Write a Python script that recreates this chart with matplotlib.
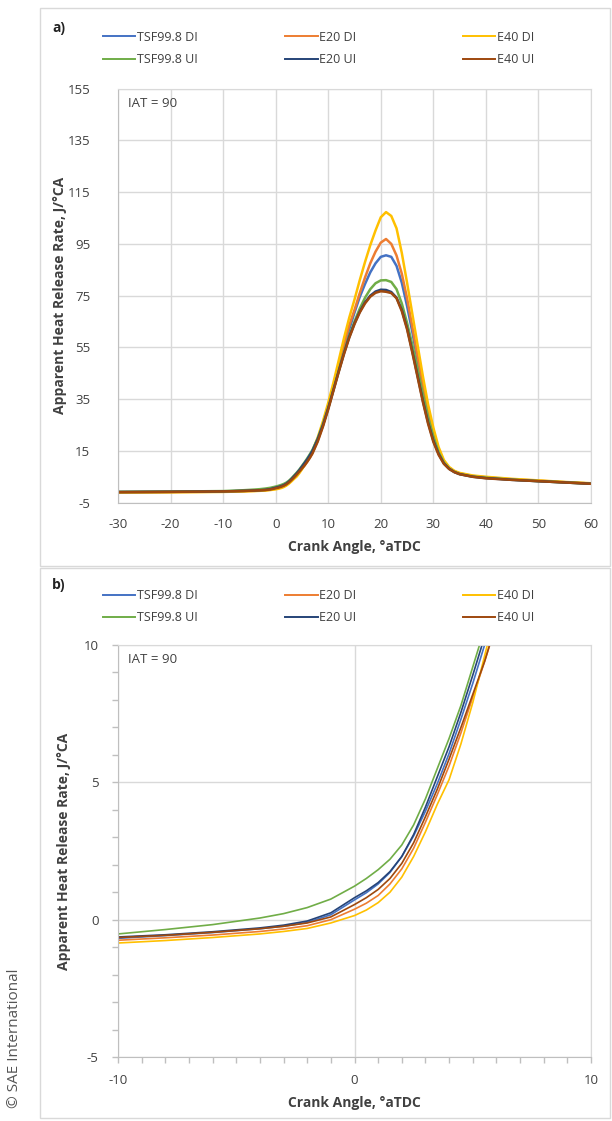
import matplotlib
matplotlib.use("Agg")
import matplotlib.pyplot as plt
import matplotlib.ticker as ticker
from matplotlib.patches import Rectangle
from matplotlib.lines import Line2D

plt.rcParams['font.family'] = ['Open Sans', 'DejaVu Sans']
plt.rcParams['axes.unicode_minus'] = False

# crank angle grid, degrees aTDC
ca = [-30, -25, -20, -15, -10, -8, -6, -4, -3, -2, -1,
      0, 0.5, 1, 1.5, 2, 2.5, 3, 3.5, 4, 4.5, 5, 5.5, 6, 6.5, 7,
      8, 9, 10, 11, 12, 13, 14, 15, 16, 17, 18, 19, 20, 21,
      22, 23, 24, 25, 26, 27, 28, 29, 30, 31, 32, 33, 34, 35,
      37.5, 40, 45, 50, 55, 60]

# apparent heat release rate, J/deg CA
tsf_di = [-0.95, -0.90, -0.85, -0.77, -0.68, -0.58, -0.47, -0.33, -0.24, -0.10, 0.18,
          0.72, 0.98, 1.30, 1.72, 2.30, 3.05, 3.95, 4.95, 6.05, 7.30, 8.60, 10.0, 11.5, 13.1, 14.9,
          19.6, 25.3, 32.0, 39.3, 47.0, 54.8, 62.0, 68.5, 74.5, 79.5, 84.0, 87.5, 90.0, 90.6,
          90.0, 86.5, 80.0, 71.0, 61.0, 50.0, 39.5, 29.5, 21.5, 15.0, 10.8, 8.4, 7.0, 6.2,
          5.2, 4.7, 3.9, 3.4, 2.9, 2.4]
e20_di = [-1.00, -0.95, -0.90, -0.83, -0.75, -0.66, -0.56, -0.43, -0.34, -0.22, 0.00,
          0.38, 0.60, 0.88, 1.30, 1.85, 2.60, 3.55, 4.55, 5.60, 6.80, 8.10, 9.40, 10.8, 12.4, 14.2,
          18.9, 24.8, 31.9, 39.6, 48.0, 56.2, 63.5, 69.5, 76.0, 82.0, 87.5, 92.0, 95.5, 96.9,
          95.0, 90.5, 83.5, 74.0, 63.0, 51.5, 40.5, 30.5, 22.0, 15.5, 11.0, 8.5, 7.1, 6.3,
          5.3, 4.8, 4.0, 3.5, 2.9, 2.4]
e40_di = [-1.10, -1.05, -1.00, -0.93, -0.85, -0.76, -0.65, -0.52, -0.43, -0.32, -0.12,
          0.15, 0.35, 0.62, 1.00, 1.55, 2.30, 3.20, 4.20, 5.10, 6.40, 7.90, 9.60, 11.3, 13.1, 15.1,
          20.2, 26.5, 33.6, 41.5, 50.0, 58.6, 66.5, 73.5, 81.0, 88.0, 94.5, 100.2, 105.3, 107.3,
          105.8, 101.0, 91.5, 80.0, 68.0, 56.0, 44.0, 33.0, 24.0, 16.5, 11.5, 8.8, 7.3, 6.5,
          5.5, 5.0, 4.2, 3.6, 3.0, 2.5]
tsf_ui = [-0.80, -0.75, -0.70, -0.62, -0.52, -0.36, -0.18, 0.06, 0.22, 0.44, 0.75,
          1.22, 1.50, 1.82, 2.20, 2.72, 3.45, 4.40, 5.50, 6.60, 7.80, 9.20, 10.6, 12.1, 13.7, 15.4,
          19.8, 25.3, 31.6, 38.7, 46.0, 53.2, 59.5, 65.0, 70.0, 74.2, 77.5, 79.8, 80.9, 81.0,
          80.3, 77.5, 72.0, 64.5, 56.0, 46.5, 37.0, 28.0, 20.5, 14.5, 10.5, 8.2, 6.9, 6.1,
          5.1, 4.6, 3.9, 3.3, 2.8, 2.3]
e20_ui = [-0.90, -0.85, -0.80, -0.72, -0.63, -0.55, -0.44, -0.30, -0.20, -0.05, 0.25,
          0.80, 1.05, 1.35, 1.75, 2.30, 3.10, 4.10, 5.20, 6.30, 7.55, 8.90, 10.3, 11.7, 13.3, 15.0,
          19.5, 25.0, 31.5, 38.6, 45.8, 52.7, 59.0, 64.3, 68.8, 72.4, 75.0, 76.6, 77.3, 77.2,
          76.4, 74.2, 69.5, 62.5, 53.5, 44.0, 34.5, 26.0, 19.0, 13.8, 10.2, 8.1, 6.8, 6.0,
          5.0, 4.5, 3.8, 3.3, 2.8, 2.3]
e40_ui = [-0.92, -0.87, -0.82, -0.74, -0.65, -0.57, -0.46, -0.33, -0.24, -0.12, 0.10,
          0.55, 0.80, 1.10, 1.50, 2.05, 2.80, 3.75, 4.75, 5.85, 7.00, 8.20, 9.40, 10.8, 12.3, 14.0,
          18.6, 24.4, 31.0, 38.3, 45.5, 52.4, 58.7, 64.0, 68.5, 72.0, 74.6, 76.1, 76.7, 76.5,
          76.0, 74.0, 69.0, 62.0, 53.0, 43.5, 34.0, 25.5, 18.5, 13.5, 10.0, 8.0, 6.8, 6.0,
          5.0, 4.4, 3.8, 3.3, 2.8, 2.3]

labels = ['TSF99.8 DI', 'E20 DI', 'E40 DI', 'TSF99.8 UI', 'E20 UI', 'E40 UI']
series = [tsf_di, e20_di, e40_di, tsf_ui, e20_ui, e40_ui]
colors = ['#4472C4', '#ED7D31', '#FFC000', '#70AD47', '#264478', '#9E480E']

grid_c = '#D9D9D9'
axis_c = '#BFBFBF'
text_c = '#404040'

fig = plt.figure(figsize=(6.12, 11.21), dpi=100)

# panel frames
for y0, h in [(0.4951, 0.4978), (0.0027, 0.4906)]:
    fig.add_artist(Rectangle((0.0654, y0), 0.9313, h, transform=fig.transFigure,
                             fill=False, ec=grid_c, lw=1))

ax1 = fig.add_axes([0.1928, 0.5516, 0.7729, 0.3693])
ax2 = fig.add_axes([0.1928, 0.0571, 0.7729, 0.3675])

for lab, y, col in zip(labels, series, colors):
    ax1.plot(ca, y, color=col, lw=1.8, label=lab)
    ax2.plot(ca, y, color=col, lw=1.2, label=lab)

# a) full cycle
ax1.set_xlim(-30, 60)
ax1.set_ylim(-5, 155)
ax1.xaxis.set_major_locator(ticker.MultipleLocator(10))
ax1.yaxis.set_major_locator(ticker.FixedLocator(range(-5, 156, 20)))
ax1.grid(True, color=grid_c, lw=1)
ax1.tick_params(length=0, labelsize=9.5, labelcolor=text_c)
ax1.tick_params(axis='y', pad=20)
ax1.tick_params(axis='x', pad=11)

# b) zoom around TDC
ax2.set_xlim(-10, 10)
ax2.set_ylim(-5, 10)
ax2.xaxis.set_major_locator(ticker.MultipleLocator(10))
ax2.xaxis.set_minor_locator(ticker.MultipleLocator(1))
ax2.yaxis.set_major_locator(ticker.MultipleLocator(5))
ax2.yaxis.set_minor_locator(ticker.MultipleLocator(1))
ax2.grid(True, which='major', color=grid_c, lw=1)
ax2.tick_params(which='both', direction='out', length=4, width=1, color=axis_c,
                labelsize=9.5, labelcolor=text_c)
ax2.tick_params(axis='y', pad=10)
ax2.tick_params(axis='x', pad=8)

for ax in (ax1, ax2):
    ax.set_axisbelow(True)
    for side in ('top', 'right'):
        ax.spines[side].set_color(grid_c)
    for side in ('left', 'bottom'):
        ax.spines[side].set_color(axis_c)
    ax.set_xlabel('Crank Angle, °aTDC', fontsize=10, fontweight='bold', color=text_c)
    ax.set_ylabel('Apparent Heat Release Rate, J/°CA', fontsize=10,
                  fontweight='bold', color=text_c)
    ax.text(0.021, 0.965, 'IAT = 90', transform=ax.transAxes, fontsize=9.5,
            color=text_c, va='center')

ax1.xaxis.set_label_coords(0.5, -0.09)
ax1.yaxis.set_label_coords(-0.108, 0.5)
ax2.xaxis.set_label_coords(0.5, -0.095)
ax2.yaxis.set_label_coords(-0.099, 0.5)

# legends: three columns of two entries each
handles = [Line2D([], [], color=c, lw=1.4) for c in colors]
col_x = [0.1683, 0.4657, 0.7565]
for top_y, tag_y, tag in [(0.9725, 0.981, 'a)'), (0.4745, 0.4844, 'b)')]:
    for i, x in enumerate(col_x):
        fig.legend([handles[i], handles[i + 3]], [labels[i], labels[i + 3]],
                   loc='upper left', bbox_to_anchor=(x, top_y), frameon=False,
                   borderpad=0, borderaxespad=0, handlelength=2.6, handletextpad=0.1,
                   labelspacing=0.75, fontsize=9, labelcolor=text_c)
    fig.text(0.085, tag_y, tag, fontsize=10, fontweight='bold', va='top', color='#222222')

fig.text(0.0245, 0.074, '© SAE International', rotation=90, fontsize=11,
         color='#555555', ha='center', va='center')

fig.savefig('out.png', dpi=100)
